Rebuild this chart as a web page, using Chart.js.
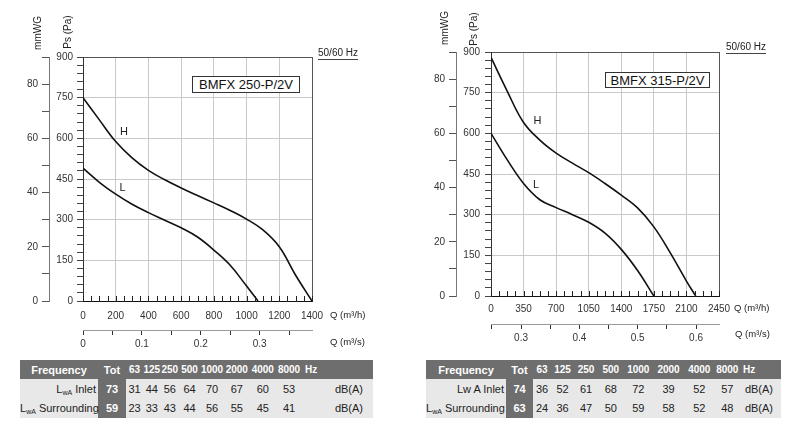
<!DOCTYPE html>
<html><head><meta charset="utf-8">
<script src="https://cdn.jsdelivr.net/npm/chart.js@4.4.0/dist/chart.umd.min.js"></script>
<style>
html,body{margin:0;padding:0;background:#fff;}
#wrap{position:relative;width:800px;height:435px;overflow:hidden;font-family:'Liberation Sans',Arial,sans-serif;color:#222;}
canvas{position:absolute;top:0;}
.t{position:absolute;white-space:nowrap;line-height:1;transform:translate(-50%,-50%);color:#222;}
.tl{position:absolute;white-space:nowrap;line-height:1;transform:translateY(-50%);color:#222;font-size:9.5px;}
.rot{transform:translate(-50%,-50%) rotate(-90deg);font-size:10px;}
.box{position:absolute;border:1px solid #333;box-sizing:border-box;display:flex;align-items:center;justify-content:center;font-size:13px;color:#111;background:#fff;}
.hz{position:absolute;font-size:10px;border-bottom:1px solid #444;line-height:1;padding-bottom:1px;color:#222;}
table.freq{position:absolute;border-collapse:collapse;table-layout:fixed;font-size:11px;}
table.freq td{padding:0;text-align:center;white-space:nowrap;overflow:visible;}
table.freq tr.head td{background:#6e6e6e;color:#fff;font-weight:bold;height:19px;font-size:10px;}
table.freq tr.head td.fq{font-size:11px;}
table.freq tr.row td{background:#e8e8e8;color:#222;height:19.5px;}
table.freq tr.row td.tot{background:#6e6e6e;color:#fff;font-weight:bold;}
table.freq td.lab{text-align:right;padding-right:2px;}
table.freq td.hzc{text-align:left;padding-left:3px;}
.sub{font-size:7px;position:relative;top:2px;}
</style></head>
<body><div id="wrap">
<canvas id="c1" width="400" height="355" style="left:0"></canvas>
<canvas id="c2" width="400" height="355" style="left:400px"></canvas>

<div class="t rot" style="left:37.5px;top:33px">mmWG</div>
<div class="t rot" style="left:67.5px;top:32px">Ps (Pa)</div>
<div class="hz" style="left:318px;top:48px">50/60 Hz</div>
<div class="box" style="left:192px;top:76px;width:108px;height:17px">BMFX 250-P/2V</div>
<div class="t" style="left:124px;top:131px;font-size:11px">H</div>
<div class="t" style="left:122.5px;top:187px;font-size:11px">L</div>
<div class="tl" style="left:330px;top:315px">Q (m³/h)</div>
<div class="tl" style="left:330px;top:342px">Q (m³/s)</div>

<div class="t rot" style="left:445px;top:28px">mmWG</div>
<div class="t rot" style="left:474px;top:28.5px">Ps (Pa)</div>
<div class="hz" style="left:726px;top:42px">50/60 Hz</div>
<div class="box" style="left:605px;top:72px;width:105px;height:16px">BMFX 315-P/2V</div>
<div class="t" style="left:537.5px;top:120px;font-size:11px">H</div>
<div class="t" style="left:536px;top:184px;font-size:11px">L</div>
<div class="tl" style="left:734px;top:308px">Q (m³/h)</div>
<div class="tl" style="left:735px;top:334px">Q (m³/s)</div>

<table class="freq" id="t1" style="left:20px;top:360px;width:353px"></table>
<table class="freq" id="t2" style="left:426px;top:360px;width:355px"></table>
</div>
<script>
// ---- Fan curves: BMFX 250-P/2V (flow m³/h, static pressure Pa)
const flowH250 = [0,100,200,300,400,500,600,700,800,900,1000,1100,1200,1300,1400];
const pressH250 = [750,668,588,528,482,447,417,389,362,334,302,262,200,95,0];
const flowL250 = [0,100,200,300,400,500,600,700,800,900,1000,1070];
const pressL250 = [490,438,394,357,326,298,270,236,188,132,55,0];

// ---- Fan curves: BMFX 315-P/2V
const flowH315 = [0,175,350,525,700,875,1050,1225,1400,1575,1750,1925,2100,2200];
const pressH315 = [880,755,640,575,527,490,455,415,372,325,255,160,55,0];
const flowL315 = [0,175,350,525,700,875,1050,1225,1400,1575,1750];
const pressL315 = [600,502,415,355,326,300,272,232,172,94,0];

// ---- Axis ranges / tick steps
const paMax = 900, paMajor = 150, paMinor = 30;
const mmMax = 90, mmMajor = 20, mmMinor = 10;
const q250Max = 1400, q250Major = 200, q250Minor = 50;
const q315Max = 2450, q315Major = 350, q315Minor = 87.5;
const qs250Range = [0, 1400/3600];
const qs315Range = [0.2485, 0.6394];
const qsMajor = 0.1, qsMinor = 0.05;

// ---- Sound data
const bands = ['63','125','250','500','1000','2000','4000','8000'];
const inletTot250 = 73, surrTot250 = 59;
const inlet250 = [31,44,56,64,70,67,60,53];
const surr250 = [23,33,43,44,56,55,45,41];
const inletTot315 = 74, surrTot315 = 63;
const inlet315 = [36,52,61,68,72,39,52,57];
const surr315 = [24,36,47,50,59,58,52,48];

const FONT = "'Liberation Sans', Arial, sans-serif";
const near = (v, s) => Math.abs(v / s - Math.round(v / s)) < 1e-6;
const pts = (xs, ys) => xs.map((x, i) => ({x, y: ys[i]}));
const tickFont = {family: FONT, size: 10};

// flow-axis tick marks pointing up into the plot, at the scale's own ticks
const innerTicks = {
  id: 'innerTicks',
  afterDraw(chart) {
    const s = chart.scales.x, ctx = chart.ctx;
    ctx.save();
    ctx.strokeStyle = '#222'; ctx.lineWidth = 1;
    ctx.beginPath();
    s.ticks.forEach(t => {
      const px = Math.round(s.getPixelForValue(t.value)) + 0.5;
      ctx.moveTo(px, s.top + 1); ctx.lineTo(px, s.top - 5);
    });
    ctx.stroke();
    ctx.restore();
  }
};

function makeChart(id, c) {
  const gridFn = (max, major) => ctx => {
    const v = ctx.tick ? ctx.tick.value : 0;
    if (Math.abs(v - max) < 1e-6) return '#555';
    if (v > 0 && near(v, major)) return '#c9c9c9';
    return 'rgba(0,0,0,0)';
  };
  const ds = (d) => ({data: d, borderColor: '#111', borderWidth: 1.6, pointRadius: 0, fill: false,
    tension: 0.4, xAxisID: 'x', yAxisID: 'y'});
  return new Chart(document.getElementById(id), {
    type: 'line',
    data: {datasets: [ds(pts(c.fH, c.pH)), ds(pts(c.fL, c.pL))]},
    plugins: [innerTicks],
    options: {
      responsive: false, animation: false,
      layout: {padding: c.pad},
      plugins: {legend: {display: false}, tooltip: {enabled: false}},
      scales: {
        x: {type: 'linear', position: 'bottom', weight: 0, min: 0, max: c.qMax,
          ticks: {stepSize: c.qMinor, includeBounds: false, autoSkip: false, maxRotation: 0, maxTicksLimit: 200,
            padding: c.xPad, color: '#333', font: tickFont,
            callback: v => near(v, c.qMajor) ? String(Math.round(v)) : ''},
          grid: {color: gridFn(c.qMax, c.qMajor), drawTicks: false},
          border: {color: '#111'},
          afterFit: s => { s.height = c.xH; }},
        x2: {type: 'linear', position: 'bottom', weight: 1, min: c.qs[0], max: c.qs[1],
          ticks: {stepSize: qsMinor, includeBounds: false, autoSkip: false, maxRotation: 0, maxTicksLimit: 200,
            padding: 3, color: '#333', font: tickFont,
            callback: v => near(v, qsMajor) ? String(Math.round(v * 10) / 10) : ''},
          grid: {drawOnChartArea: false, tickColor: '#333', tickLength: 5},
          border: {color: '#999'},
          afterFit: s => { s.height = c.x2H; }},
        y: {type: 'linear', position: 'left', weight: 0, min: 0, max: paMax,
          ticks: {stepSize: paMinor, includeBounds: false, autoSkip: false, maxTicksLimit: 200,
            padding: c.yPad, color: '#333', font: tickFont,
            callback: v => near(v, paMajor) ? String(Math.round(v)) : ''},
          grid: {color: gridFn(paMax, paMajor), tickColor: '#444', tickLength: 6},
          border: {color: '#333'},
          afterFit: s => { s.width = c.yW; }},
        y2: {type: 'linear', position: 'left', weight: 1, min: 0, max: mmMax,
          ticks: {stepSize: mmMinor, includeBounds: false, autoSkip: false, maxTicksLimit: 200,
            padding: 4, color: '#333', font: tickFont,
            callback: v => near(v, mmMajor) ? String(Math.round(v)) : ''},
          grid: {drawOnChartArea: false, tickColor: '#555', tickLength: 7},
          border: {color: '#777'},
          afterFit: s => { s.width = c.y2W; }}
      }
    }
  });
}

makeChart('c1', {fH: flowH250, pH: pressH250, fL: flowL250, pL: pressL250,
  qMax: q250Max, qMajor: q250Major, qMinor: q250Minor, qs: qs250Range,
  pad: {left: 0, top: 57, right: 88, bottom: 5}, xH: 29, x2H: 20, yW: 34, y2W: 49, xPad: 9, yPad: 4});
makeChart('c2', {fH: flowH315, pH: pressH315, fL: flowL315, pL: pressL315,
  qMax: q315Max, qMajor: q315Major, qMinor: q315Minor, qs: qs315Range,
  pad: {left: 0, top: 52, right: 81, bottom: 11}, xH: 28, x2H: 20, yW: 35, y2W: 56, xPad: 7, yPad: 5});

function buildTable(id, widths, labels, tots, rows, lastPad) {
  const t = document.getElementById(id);
  let h = '<colgroup>' + widths.map(w => `<col style="width:${w}px">`).join('') + '</colgroup>';
  h += '<tr class="head"><td class="fq">Frequency</td><td class="fq">Tot</td>' + bands.map(b => `<td>${b}</td>`).join('') + '<td class="hzc">Hz</td></tr>';
  rows.forEach((r, i) => {
    h += `<tr class="row"><td class="lab">${labels[i]}</td><td class="tot">${tots[i]}</td>` +
      r.map(v => `<td>${v}</td>`).join('') + `<td style="text-align:right;padding-right:${lastPad}px">dB(A)</td></tr>`;
  });
  t.innerHTML = h;
}
const LwA = 'L<span class="sub">wA</span>';
buildTable('t1', [78,28,17,17.5,18.5,21,24,25.5,26.5,26,71],
  [LwA + ' Inlet', LwA + ' Surrounding'], [inletTot250, surrTot250], [inlet250, surr250], 10);
buildTable('t2', [80,27,18,23,24,25.5,29.5,31,30.5,25.5,41],
  ['Lw A Inlet', LwA + ' Surrounding'], [inletTot315, surrTot315], [inlet315, surr315], 8);
</script>
</body></html>
